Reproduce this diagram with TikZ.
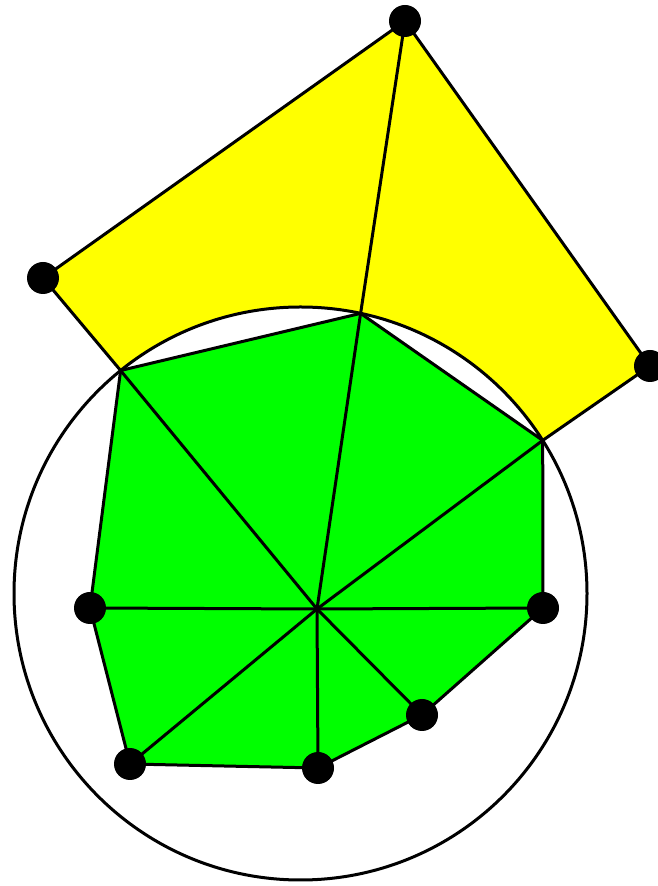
\documentclass[tikz,border=0pt]{standalone}
\definecolor{yel}{RGB}{255,255,0}
\definecolor{grn}{RGB}{0,255,0}
\begin{document}
\begin{tikzpicture}[x=1pt,y=1pt,
  edge/.style={line width=3pt, line join=round, line cap=round},
  dot/.style={circle, fill=black, inner sep=0pt, minimum size=32pt}]
\useasboundingbox (0,0) rectangle (658,886);
\clip (0,0) rectangle (658,886);
% circle centre
\coordinate (Z) at (300.5,292.5);
% vertices
\coordinate (T) at (405,865);
\coordinate (L) at (43,608);
\coordinate (R) at (650,520);
\coordinate (A) at (120.6,515.5);
\coordinate (B) at (360.6,572.6);
\coordinate (C) at (542.7,445.6);
\coordinate (D) at (543,278);
\coordinate (E) at (422,171);
\coordinate (F) at (318,118);
\coordinate (G) at (130,122);
\coordinate (H) at (90,278);
\coordinate (O) at (317,277);
% fills
\fill[yel] (L) -- (T) -- (R) -- (C) arc[start angle=32.3, end angle=128.9, radius=286.5] -- cycle;
\fill[grn] (A) -- (B) -- (C) -- (D) -- (E) -- (F) -- (G) -- (H) -- cycle;
% circle
\draw[edge] (Z) circle (286.5);
% yellow quadrilateral edges
\draw[edge] (L) -- (T) -- (R) -- (C);
\draw[edge] (L) -- (A);
\draw[edge] (T) -- (B);
% green polygon
\draw[edge] (A) -- (B) -- (C) -- (D) -- (E) -- (F) -- (G) -- (H) -- cycle;
% spokes
\foreach \v in {A,B,C,D,E,F,G,H} \draw[edge] (O) -- (\v);
% dots
\node[dot] (dT) at (T) {};
\node[dot] (dL) at (L) {};
\node[dot] (dR) at (R) {};
\node[dot] (dD) at (D) {};
\node[dot] (dE) at (E) {};
\node[dot] (dF) at (F) {};
\node[dot] (dG) at (G) {};
\node[dot] (dH) at (H) {};
\end{tikzpicture}
\end{document}
